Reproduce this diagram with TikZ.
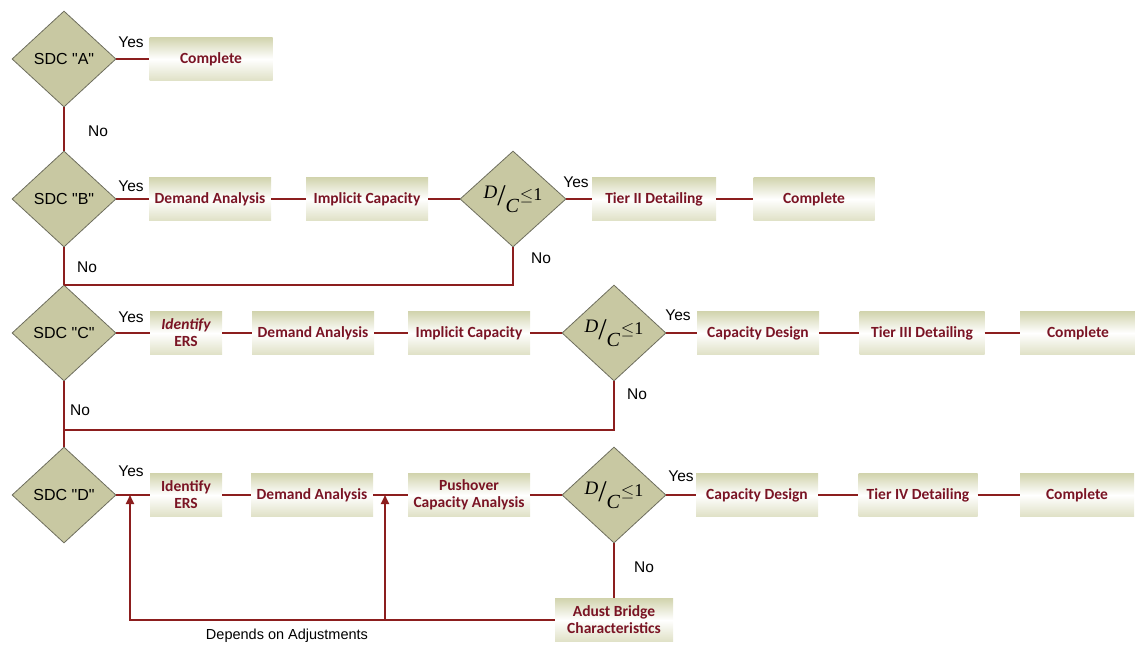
\documentclass[tikz,border=0pt]{standalone}
\usepackage{fontspec}
\usetikzlibrary{shapes.geometric,arrows.meta}
\newfontfamily\labf{Liberation Sans}
\newfontfamily\boxf{Carlito}
\newfontfamily\dcf{Liberation Serif}
\definecolor{linered}{HTML}{8C1E1E}
\definecolor{boxred}{HTML}{7A1424}
\definecolor{khaki}{HTML}{C8C8A2}
\definecolor{boxkhaki}{HTML}{D2D4AE}
\definecolor{dborder}{HTML}{6E6E5E}
\newcommand\dcratio{{\dcf\raisebox{7pt}{\itshape\fontsize{19}{19}\selectfont D}\kern0pt{\fontsize{30}{30}\selectfont/}\kern0pt\raisebox{-7pt}{\itshape\fontsize{20}{20}\selectfont C}\kern1pt\raisebox{5pt}{\fontsize{18}{18}\selectfont$\le$1}}}
\tikzset{
 dec/.style={diamond, draw=dborder, line width=0.8pt, fill=khaki, minimum width=104pt, minimum height=96pt, inner sep=0pt, font=\labf\fontsize{16}{16}\selectfont},
 pbox/.style={rectangle, minimum width=122pt, minimum height=43pt, inner sep=0pt, top color=boxkhaki, bottom color=boxkhaki!70, middle color=white, text=boxred, font=\boxf\bfseries\fontsize{15.5}{17}\selectfont, align=center},
 sbox/.style={pbox, minimum width=72pt},
 conn/.style={draw=linered, line width=2pt},
 arr/.style={conn, -{Triangle[width=8pt,length=9pt]}},
 lab/.style={font=\labf\fontsize{15.5}{15.5}\selectfont, inner sep=0pt},
}
\begin{document}
\begin{tikzpicture}[x=1pt,y=1pt]
\useasboundingbox (0,0) rectangle (1135,-649);
% Row A
\node[dec] (A) at (64,-59) {SDC "A"};
\node[pbox, minimum width=123pt] (cA) at (211,-59) {Complete};
% Row B
\node[dec] (B) at (64,-199) {SDC "B"};
\node[pbox] (daB) at (210,-199) {Demand Analysis};
\node[pbox] (icB) at (367,-199) {Implicit Capacity};
\node[dec, minimum width=106pt] (dcB) at (513,-199) {\dcratio};
\node[pbox, minimum width=124pt] (t2) at (654,-199) {Tier II Detailing};
\node[pbox, minimum width=121pt] (cB) at (814,-199) {Complete};
% Row C
\node[dec] (C) at (64,-333) {SDC "C"};
\node[sbox] (idC) at (186,-333) {\itshape Identify\\ERS};
\node[pbox] (daC) at (313,-333) {Demand Analysis};
\node[pbox] (icC) at (469,-333) {Implicit Capacity};
\node[dec] (dcC) at (614,-333) {\dcratio};
\node[pbox] (cdC) at (758,-333) {Capacity Design};
\node[pbox, minimum width=125pt] (t3) at (922,-333) {Tier III Detailing};
\node[pbox, minimum width=116pt] (cC) at (1078,-333) {Complete};
% Row D
\node[dec] (D) at (64,-495) {SDC "D"};
\node[sbox] (idD) at (186,-495) {Identify\\ERS};
\node[pbox] (daD) at (312,-495) {Demand Analysis};
\node[pbox] (puD) at (469,-495) {Pushover\\Capacity Analysis};
\node[dec] (dcD) at (614,-495) {\dcratio};
\node[pbox] (cdD) at (757,-495) {Capacity Design};
\node[pbox, minimum width=119pt] (t4) at (918,-495) {Tier IV Detailing};
\node[pbox, minimum width=114pt] (cD) at (1077,-495) {Complete};
\node[pbox, minimum width=118pt] (adj) at (614,-620) {Adust Bridge\\Characteristics};
\coordinate (yD1) at (130,-495);
\coordinate (yD2) at (385,-495);
\coordinate (jC) at (64,-430);
% connectors
\draw[conn] (A.east) -- (cA.west);
\draw[conn] (A.south) -- (B.north);
\draw[conn] (B.east) -- (daB.west);
\draw[conn] (daB.east) -- (icB.west);
\draw[conn] (icB.east) -- (dcB.west);
\draw[conn] (dcB.east) -- (t2.west);
\draw[conn] (t2.east) -- (cB.west);
\draw[conn] (B.south) -- (C.north);
\draw[conn] (dcB.south) |- (C.north);
\draw[conn] (C.east) -- (idC.west);
\draw[conn] (idC.east) -- (daC.west);
\draw[conn] (daC.east) -- (icC.west);
\draw[conn] (icC.east) -- (dcC.west);
\draw[conn] (dcC.east) -- (cdC.west);
\draw[conn] (cdC.east) -- (t3.west);
\draw[conn] (t3.east) -- (cC.west);
\draw[conn] (C.south) -- (D.north);
\draw[conn] (dcC.south) |- (jC);
\draw[conn] (D.east) -- (idD.west);
\draw[conn] (idD.east) -- (daD.west);
\draw[conn] (daD.east) -- (puD.west);
\draw[conn] (puD.east) -- (dcD.west);
\draw[conn] (dcD.east) -- (cdD.west);
\draw[conn] (cdD.east) -- (t4.west);
\draw[conn] (t4.east) -- (cD.west);
\draw[conn] (dcD.south) -- (adj.north);
\draw[arr] (adj.west) -| (yD1);
\draw[arr] (adj.west -| yD2) -- (yD2);
% labels
\node[lab] at (131,-42) {Yes};
\node[lab] at (98,-131) {No};
\node[lab] at (131,-186) {Yes};
\node[lab] at (576,-182) {Yes};
\node[lab] at (87,-267) {No};
\node[lab] at (541,-258) {No};
\node[lab] at (131,-317) {Yes};
\node[lab] at (678,-315) {Yes};
\node[lab] at (80,-410) {No};
\node[lab] at (637,-394) {No};
\node[lab] at (131,-471) {Yes};
\node[lab] at (681,-476) {Yes};
\node[lab] at (644,-567) {No};
\node[lab, font=\labf\fontsize{14.5}{14.5}\selectfont] at (287,-636) {Depends on Adjustments};
\end{tikzpicture}
\end{document}
